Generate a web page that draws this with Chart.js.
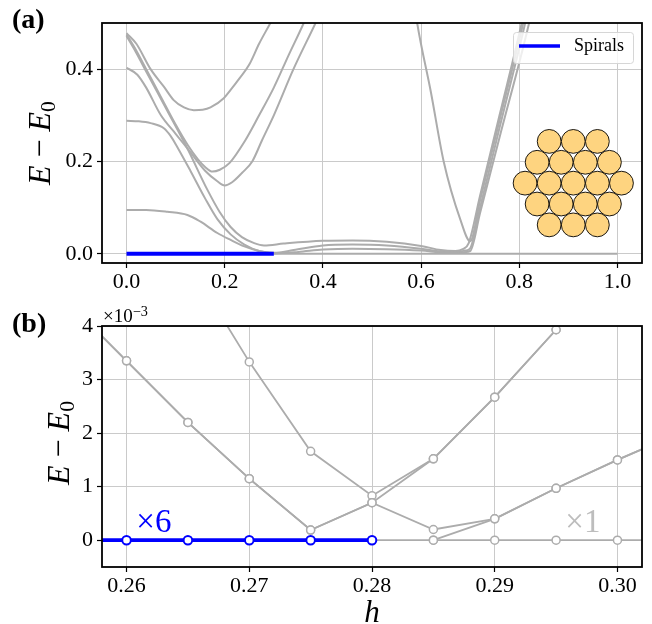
<!DOCTYPE html>
<html>
<head>
<meta charset="utf-8">
<script src="https://cdn.jsdelivr.net/npm/chart.js@4"></script>
<style>
  body { margin: 0; background: #fff; }
  #wrap { position: relative; width: 652px; height: 624px; font-family: "Liberation Serif", "Times New Roman", serif; color: #000; }
  canvas { position: absolute; left: 0; }
  #chartA { top: 0; }
  #chartB { top: 300px; }
  .panel { position: absolute; left: 12px; font-weight: bold; font-size: 28px; line-height: 28px; z-index: 2; }
  .ylab { position: absolute; width: 160px; height: 32px; line-height: 32px; text-align: center; font-size: 32px; transform: rotate(-90deg); white-space: nowrap; z-index: 2; }
  .ylab sub { font-size: 0.68em; vertical-align: -0.22em; line-height: 0; }
  .xlab { position: absolute; left: 322px; top: 596px; width: 100px; text-align: center; font-size: 31px; line-height: 31px; font-style: italic; z-index: 2; }
  .expo { position: absolute; left: 103px; top: 306px; font-size: 19px; line-height: 19px; z-index: 2; }
  .expo sup { font-size: 0.75em; vertical-align: 0.45em; line-height: 0; }
</style>
</head>
<body>
<div id="wrap">
  <canvas id="chartA" width="652" height="300"></canvas>
  <canvas id="chartB" width="652" height="324"></canvas>
  <div class="panel" style="top:5px">(a)</div>
  <div class="panel" style="top:309px">(b)</div>
  <div class="ylab" style="left:-41px; top:127px"><i>E</i> − <i>E</i><sub>0</sub></div>
  <div class="ylab" style="left:-22px; top:427px"><i>E</i> − <i>E</i><sub>0</sub></div>
  <div class="xlab">h</div>
  <div class="expo">×10<sup>−3</sup></div>
</div>
<script>
// ---- panel (a): low-lying levels over the full field range ----
const xTicksA = [0.0, 0.2, 0.4, 0.6, 0.8, 1.0];
const yTicksA = [0.0, 0.2, 0.4];

const spiralsA = [[0, 0], [0.3, 0]];
const groundA = [[0, 0], [1.0, 0]];
const levelU1 = [[0, 0.478], [0.02, 0.455], [0.049, 0.4], [0.076, 0.362], [0.096, 0.333], [0.117, 0.317], [0.137, 0.311], [0.155, 0.312], [0.171, 0.317], [0.198, 0.337], [0.212, 0.355], [0.23, 0.38], [0.25, 0.41], [0.27, 0.455], [0.293, 0.5], [0.31, 0.535]];
const levelU2 = [[0, 0.475], [0.02, 0.44], [0.04, 0.4], [0.07, 0.34], [0.1, 0.28], [0.125, 0.235], [0.145, 0.205], [0.16, 0.188], [0.175, 0.178], [0.19, 0.182], [0.21, 0.197], [0.242, 0.246], [0.27, 0.3], [0.3, 0.36], [0.33, 0.43], [0.361, 0.5], [0.375, 0.535]];
const levelU3 = [[0, 0.403], [0.022, 0.388], [0.04, 0.36], [0.07, 0.3], [0.1, 0.26], [0.13, 0.22], [0.16, 0.18], [0.185, 0.157], [0.2, 0.148], [0.215, 0.155], [0.235, 0.175], [0.256, 0.2], [0.276, 0.246], [0.3, 0.3], [0.34, 0.4], [0.385, 0.5], [0.4, 0.535]];
const levelF1 = [[0, 0.472], [0.02, 0.435], [0.04, 0.395], [0.083, 0.31], [0.124, 0.228], [0.164, 0.14], [0.19, 0.09], [0.212, 0.058], [0.235, 0.036], [0.26, 0.023], [0.28, 0.018], [0.32, 0.022], [0.4, 0.028], [0.46, 0.029], [0.53, 0.026], [0.6, 0.017], [0.64, 0.008], [0.67, 0.006], [0.685, 0.01], [0.697, 0.023], [0.72, 0.125], [0.76, 0.301], [0.805, 0.5], [0.815, 0.55]];
const levelF2 = [[0, 0.288], [0.025, 0.287], [0.049, 0.283], [0.076, 0.272], [0.09, 0.255], [0.103, 0.232], [0.13, 0.18], [0.16, 0.12], [0.185, 0.075], [0.212, 0.042], [0.24, 0.02], [0.27, 0.006], [0.3, 0.002], [0.34, 0.008], [0.4, 0.018], [0.46, 0.02], [0.53, 0.018], [0.6, 0.011], [0.64, 0.005], [0.67, 0.004], [0.69, 0.007], [0.7, 0.012], [0.72, 0.099], [0.76, 0.274], [0.812, 0.5], [0.822, 0.55]];
const levelF3 = [[0, 0.095], [0.04, 0.095], [0.083, 0.091], [0.124, 0.084], [0.15, 0.07], [0.185, 0.045], [0.212, 0.03], [0.24, 0.016], [0.27, 0.006], [0.3, 0.001], [0.35, 0.004], [0.4, 0.009], [0.46, 0.011], [0.53, 0.01], [0.6, 0.007], [0.65, 0.003], [0.68, 0.003], [0.7, 0.006], [0.72, 0.088], [0.76, 0.253], [0.82, 0.5], [0.83, 0.55]];
const levelV = [[0.588, 0.53], [0.592, 0.5], [0.62, 0.35], [0.646, 0.2], [0.68, 0.074], [0.7, 0.027], [0.72, 0.115], [0.76, 0.29], [0.808, 0.5], [0.818, 0.55]];

// ---- panel (b): zoom near the crossing, energies in units of 1e-3 ----
const hB = [0.255, 0.26, 0.265, 0.27, 0.275, 0.28, 0.285, 0.29, 0.295, 0.30, 0.305];
const xTicksB = [0.26, 0.27, 0.28, 0.29, 0.30];
const yTicksB = [0, 1, 2, 3, 4];
const spiralsB = [0, 0, 0, 0, 0, 0, null, null, null, null, null];
const groundB = [null, null, null, null, null, 0, 0, 0, 0, 0, 0];
const levelB1 = [4.5, 3.35, 2.2, 1.15, 0.19, 0.7, 1.52, 2.67, 3.93, 5.3, null];
const levelB2 = [4.5, 3.35, 2.2, 1.15, 0.19, 0.7, 0.2, 0.4, 0.97, 1.5, 2.0];
const levelB3 = [null, null, 5.2, 3.33, 1.66, 0.83, 1.52, 2.67, 3.93, 5.3, null];
const levelB4 = [null, null, null, null, null, null, 0, 0.4, 0.97, 1.5, 2.0];

const GRAY = '#acacac';
const BLUE = '#0000ff';
const SERIF = '"Liberation Serif", "Times New Roman", serif';

const pairs = arr => arr.map(([x, y]) => ({ x, y }));
const zipB = ys => hB.map((x, i) => ({ x, y: ys[i] })).filter(p => p.y !== null);

// black box around the plotting area
const frame = {
  id: 'frame',
  afterDraw(chart) {
    const { ctx, chartArea: a } = chart;
    ctx.save();
    ctx.strokeStyle = '#000';
    ctx.lineWidth = 1.8;
    ctx.strokeRect(a.left, a.top, a.right - a.left, a.bottom - a.top);
    ctx.restore();
  }
};

// legend box in the upper right corner
const legendBox = {
  id: 'legendBox',
  afterDraw(chart) {
    const { ctx, chartArea: a } = chart;
    const ds = chart.data.datasets[0];
    const w = 120, h = 31;
    const x0 = a.right - 9 - w, y0 = a.top + 9;
    ctx.save();
    ctx.fillStyle = 'rgba(255,255,255,0.8)';
    ctx.strokeStyle = '#d6d6d6';
    ctx.lineWidth = 1;
    ctx.beginPath();
    ctx.roundRect(x0 + 0.5, y0 + 0.5, w, h, 3);
    ctx.fill();
    ctx.stroke();
    ctx.strokeStyle = ds.borderColor;
    ctx.lineWidth = 3.5;
    ctx.beginPath();
    ctx.moveTo(x0 + 6, y0 + 14);
    ctx.lineTo(x0 + 47, y0 + 14);
    ctx.stroke();
    ctx.fillStyle = '#000';
    ctx.font = '18px ' + SERIF;
    ctx.textBaseline = 'alphabetic';
    ctx.fillText(ds.label, x0 + 61, y0 + 19);
    ctx.restore();
  }
};

// hexagonal 19-disc cluster sketch
const cluster = {
  id: 'cluster',
  afterDatasetsDraw(chart) {
    const { ctx, scales } = chart;
    const cx = scales.x.getPixelForValue(0.91);
    const cy = scales.y.getPixelForValue(0.153);
    const r = 11.9, d = 24.1;
    const rows = [3, 4, 5, 4, 3];
    ctx.save();
    ctx.fillStyle = '#fed480';
    ctx.strokeStyle = '#000';
    ctx.lineWidth = 0.9;
    rows.forEach((n, j) => {
      const y = cy + (j - 2) * d * Math.sqrt(3) / 2;
      for (let i = 0; i < n; i++) {
        const x = cx + (i - (n - 1) / 2) * d;
        ctx.beginPath();
        ctx.arc(x, y, r, 0, Math.PI * 2);
        ctx.fill();
        ctx.stroke();
      }
    });
    ctx.restore();
  }
};

// degeneracy labels next to the zero level
const multiplicity = {
  id: 'multiplicity',
  afterDatasetsDraw(chart) {
    const { ctx, scales } = chart;
    ctx.save();
    ctx.font = '33px ' + SERIF;
    ctx.textBaseline = 'alphabetic';
    ctx.fillStyle = BLUE;
    ctx.fillText('×6', scales.x.getPixelForValue(0.2608), scales.y.getPixelForValue(0.15));
    ctx.fillStyle = '#bdbdbd';
    ctx.fillText('×1', scales.x.getPixelForValue(0.29575), scales.y.getPixelForValue(0.15));
    ctx.restore();
  }
};

function axisStyle(ticks, fmt, pad) {
  return {
    type: 'linear',
    afterBuildTicks: s => { s.ticks = ticks.map(v => ({ value: v })); },
    ticks: {
      font: { family: SERIF, size: 22 },
      color: '#000',
      padding: pad,
      callback: fmt
    },
    grid: {
      color: '#cacaca',
      lineWidth: 1,
      tickColor: '#000',
      tickLength: 5,
      tickWidth: 1.2
    },
    border: { display: false }
  };
}

const grayLineA = (data) => ({
  data: pairs(data),
  borderColor: GRAY,
  borderWidth: 2,
  pointRadius: 0,
  cubicInterpolationMode: 'monotone',
  clip: 0
});

new Chart(document.getElementById('chartA'), {
  type: 'line',
  data: {
    datasets: [
      { label: 'Spirals', data: pairs(spiralsA), borderColor: BLUE, borderWidth: 4, pointRadius: 0 },
      grayLineA(groundA),
      grayLineA(levelU1),
      grayLineA(levelU2),
      grayLineA(levelU3),
      grayLineA(levelF1),
      grayLineA(levelF2),
      grayLineA(levelF3),
      grayLineA(levelV)
    ]
  },
  options: {
    responsive: false,
    animation: false,
    layout: { padding: { top: 23, right: 10, left: 0, bottom: 0 } },
    plugins: { legend: { display: false }, tooltip: { enabled: false } },
    scales: {
      x: Object.assign(axisStyle(xTicksA, v => v.toFixed(1), 1), {
        min: -0.05, max: 1.05,
        afterFit: s => { s.height = 37; }
      }),
      y: Object.assign(axisStyle(yTicksA, v => v.toFixed(1), 4), {
        min: -0.02, max: 0.5,
        afterFit: s => { s.width = 102; }
      })
    }
  },
  plugins: [cluster, frame, legendBox]
});

const grayLineB = (ys) => ({
  data: zipB(ys),
  borderColor: GRAY,
  borderWidth: 1.8,
  pointRadius: 4,
  pointBorderWidth: 1.5,
  pointBorderColor: GRAY,
  pointBackgroundColor: '#fff',
  clip: 0
});

new Chart(document.getElementById('chartB'), {
  type: 'line',
  data: {
    datasets: [
      {
        label: 'Spirals', data: zipB(spiralsB), borderColor: BLUE, borderWidth: 3.8,
        pointRadius: 4.3, pointBorderWidth: 2, pointBorderColor: BLUE, pointBackgroundColor: '#fff', clip: 0
      },
      grayLineB(groundB),
      grayLineB(levelB1),
      grayLineB(levelB2),
      grayLineB(levelB3),
      grayLineB(levelB4)
    ]
  },
  options: {
    responsive: false,
    animation: false,
    layout: { padding: { top: 26, right: 10, left: 0, bottom: 0 } },
    plugins: { legend: { display: false }, tooltip: { enabled: false } },
    scales: {
      x: Object.assign(axisStyle(xTicksB, v => v.toFixed(2), 1), {
        min: 0.258, max: 0.302,
        afterFit: s => { s.height = 57; }
      }),
      y: Object.assign(axisStyle(yTicksB, v => String(v), 4), {
        min: -0.5, max: 4,
        afterFit: s => { s.width = 102; }
      })
    }
  },
  plugins: [frame, multiplicity]
});
</script>
</body>
</html>
